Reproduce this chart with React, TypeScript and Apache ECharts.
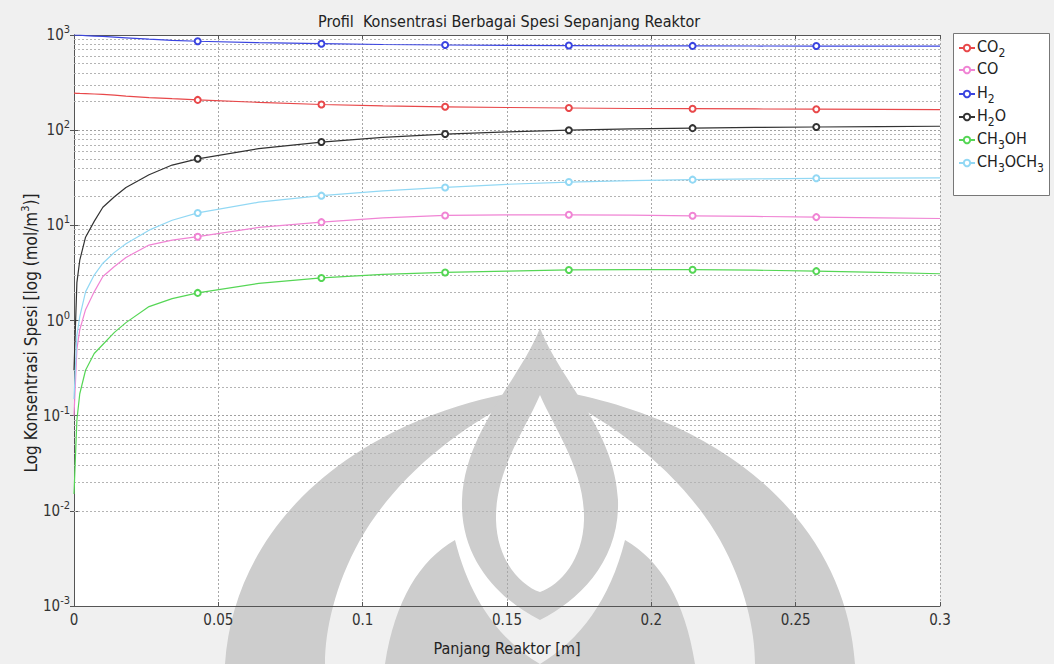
import React, { useEffect, useRef } from "react";
import * as echarts from "echarts";

const xs = [0, 0.001, 0.002, 0.004, 0.007, 0.01, 0.014, 0.018, 0.026, 0.034, 0.042857, 0.064, 0.085714, 0.107, 0.128571, 0.15, 0.171429, 0.193, 0.214286, 0.236, 0.257143, 0.279, 0.3];
const markerXs = [0.042857, 0.085714, 0.128571, 0.171429, 0.214286, 0.257143];

const seriesNames = ["CO2", "CO", "H2", "H2O", "CH3OH", "CH3OCH3"];
const co2 = [245, 244, 243, 242, 240, 238, 234, 228, 220, 214, 208, 196, 186, 180, 176, 173, 171, 169, 168, 167, 166, 165, 164];
const co = [0.1, 0.5, 0.8, 1.3, 2.0, 2.9, 3.7, 4.6, 6.2, 7.0, 7.6, 9.5, 10.8, 12, 12.7, 12.9, 12.9, 12.8, 12.6, 12.4, 12.2, 12.0, 11.8];
const h2 = [1000, 998, 995, 985, 975, 965, 950, 935, 905, 880, 860, 830, 810, 795, 785, 778, 775, 770, 768, 766, 765, 765, 765];
const h2o = [0.3, 2.5, 4.3, 7.5, 11, 15.5, 20, 25, 34, 43, 50, 64, 75, 84, 91, 96, 100, 103, 105, 107, 108, 109, 110];
const ch3oh = [0.015, 0.09, 0.17, 0.3, 0.45, 0.56, 0.75, 0.95, 1.4, 1.7, 1.95, 2.45, 2.8, 3.05, 3.2, 3.3, 3.4, 3.42, 3.42, 3.38, 3.3, 3.2, 3.1];
const ch3och3 = [0.15, 0.7, 1.1, 2.0, 3.0, 4.0, 5.2, 6.4, 8.9, 11.3, 13.5, 17.5, 20.5, 23, 25, 27, 28.5, 29.5, 30.2, 30.8, 31.2, 31.4, 31.5];
const seriesValues = [co2, co, h2, h2o, ch3oh, ch3och3];
const seriesColors = ["#e8484a", "#f084d4", "#3a44e0", "#333333", "#55d655", "#92d8f4"];

const xTicks = [0, 0.05, 0.1, 0.15, 0.2, 0.25, 0.3];
const xTickLabels = ["0", "0.05", "0.1", "0.15", "0.2", "0.25", "0.3"];
const yMin = 0.001;
const yMax = 1000;
const decadeExps = [-3, -2, -1, 0, 1, 2];
const minorMultipliers = [2, 3, 4, 5, 6, 7, 8, 9];

const FONT = "'DejaVu Sans Condensed', 'Liberation Sans Narrow', 'DejaVu Sans', sans-serif";

function chemRich(name: string): string {
  return name.replace(/([A-Za-z]+)|(\d+)/g, (m, a, d) => (a ? `{n|${a}}` : `{s|${d}}`));
}

export default function App() {
  const ref = useRef<HTMLDivElement>(null);
  useEffect(() => {
    if (!ref.current) return;
    const chart = echarts.init(ref.current, null, { renderer: "svg" });

    const minorLines: any[] = [];
    decadeExps.forEach((e) => {
      minorMultipliers.forEach((k) => {
        minorLines.push({ yAxis: k * Math.pow(10, e) });
      });
    });

    const wm = [
      "M 225 664 C 232 560 300 470 420 420 C 470 400 510 392 535 390 C 470 420 400 470 360 540 C 335 585 325 630 325 664 Z",
      "M 855 664 C 848 560 780 470 660 420 C 610 400 570 392 545 390 C 610 420 680 470 720 540 C 745 585 755 630 755 664 Z",
      "M 540 328 C 520 380 465 430 462 500 C 460 560 500 600 540 620 C 580 600 620 560 618 500 C 615 430 560 380 540 328 Z M 540 395 C 555 430 585 470 584 520 C 583 560 560 585 540 592 C 520 585 497 560 496 520 C 495 470 525 430 540 395 Z",
      "M 385 664 C 395 600 420 560 455 540 C 470 600 500 640 540 664 Z",
      "M 695 664 C 685 600 660 560 625 540 C 610 600 580 640 540 664 Z",
    ];
    wm.forEach((d, i) => {
      try {
        echarts.graphic.registerShape("wm" + i, echarts.graphic.extendPath(d, {}) as any);
      } catch (e) {}
    });

    const series: any[] = seriesNames.map((name, si) => ({
      name,
      type: "line",
      data: xs.map((x, i) => {
        const isMarker = markerXs.includes(x);
        return isMarker ? { value: [x, seriesValues[si][i]] } : { value: [x, seriesValues[si][i]], symbol: "none" };
      }),
      symbol: "emptyCircle",
      symbolSize: 6,
      showSymbol: true,
      showAllSymbol: true,
      lineStyle: { width: 1.2, color: seriesColors[si] },
      itemStyle: { color: seriesColors[si], borderWidth: 1 },
      z: 5,
    }));

    series.push({
      name: "grid-minor",
      type: "line",
      data: [],
      silent: true,
      markLine: {
        silent: true,
        symbol: ["none", "none"],
        label: { show: false },
        lineStyle: { color: "#b4b4b4", type: [2, 2], width: 1 },
        data: minorLines,
        animation: false,
      },
      z: 1,
    });

    const legends = seriesNames.map((name, i) => ({
      data: [name],
      orient: "vertical",
      left: 958,
      top: 37 + i * 23,
      padding: 0,
      itemWidth: 16,
      itemHeight: 8,
      itemGap: 0,
      z: 10,
      formatter: (n: string) => chemRich(n),
      textStyle: {
        fontFamily: FONT,
        padding: [0, 0, 0, -3],
        rich: {
          n: { fontFamily: FONT, fontSize: 16, color: "#222", lineHeight: 18, padding: [0, 0, 4, 0] },
          s: { fontFamily: FONT, fontSize: 12, color: "#222", lineHeight: 12, padding: [10, 0, 0, 0] },
        },
      },
    }));

    const axisLineStyle = { color: "#555", width: 1 };

    const option: any = {
      animation: false,
      backgroundColor: "#f0f0f0",
      textStyle: { fontFamily: FONT },
      title: {
        text: "Profil  Konsentrasi Berbagai Spesi Sepanjang Reaktor",
        left: 313,
        top: 8,
        textStyle: { fontFamily: FONT, fontSize: 16, fontWeight: "normal", color: "#222" },
      },
      grid: { left: 74, right: 114, top: 35, bottom: 58, show: false },
      legend: legends,
      xAxis: [
        {
          type: "value",
          min: 0,
          max: 0.3,
          interval: 0.05,
          axisLine: { show: true, onZero: false, lineStyle: axisLineStyle },
          axisTick: { show: true, inside: true, length: 4, lineStyle: { color: "#555" } },
          axisLabel: {
            color: "#333",
            fontSize: 15,
            fontFamily: FONT,
            margin: 6,
            formatter: (v: number) => {
              const idx = xTicks.findIndex((t) => Math.abs(t - v) < 1e-9);
              return idx >= 0 ? xTickLabels[idx] : "";
            },
          },
          splitLine: { show: true, lineStyle: { color: "#a8a8a8", type: [2, 2] } },
        },
        {
          type: "value",
          position: "top",
          min: 0,
          max: 0.3,
          interval: 0.05,
          axisLine: { show: true, onZero: false, lineStyle: axisLineStyle },
          axisTick: { show: true, inside: true, length: 4, lineStyle: { color: "#555" } },
          axisLabel: { show: false },
          splitLine: { show: false },
        },
      ],
      yAxis: [
        {
          type: "log",
          logBase: 10,
          min: yMin,
          max: yMax,
          axisLine: { show: true, lineStyle: axisLineStyle },
          axisTick: { show: true, inside: true, length: 4, lineStyle: { color: "#555" } },
          axisLabel: {
            color: "#333",
            fontFamily: FONT,
            margin: 4,
            formatter: (v: number) => `{b|10}{p|${Math.round(Math.log10(v))}}`,
            rich: {
              b: { fontFamily: FONT, fontSize: 15, color: "#333", lineHeight: 16 },
              p: { fontFamily: FONT, fontSize: 11, color: "#333", lineHeight: 16, padding: [0, 0, 11, 0] },
            },
          },
          splitLine: { show: true, lineStyle: { color: "#a0a0a0", type: [2, 2] } },
        },
        {
          type: "log",
          logBase: 10,
          position: "right",
          min: yMin,
          max: yMax,
          axisLine: { show: true, lineStyle: axisLineStyle },
          axisTick: { show: true, inside: true, length: 4, lineStyle: { color: "#555" } },
          axisLabel: { show: false },
          splitLine: { show: false },
        },
      ],
      graphic: [
        { type: "rect", z: -100, silent: true, shape: { x: 74, y: 35, width: 866, height: 571 }, style: { fill: "#ffffff" } },
        ...wm.map((_, i) => ({ type: "wm" + i, z: -50, silent: true, x: 0, y: 0, style: { fill: "#cdcdcd" } })),
        { type: "rect", z: -40, silent: true, shape: { x: 953.5, y: 33.5, width: 96, height: 162 }, style: { fill: "#ffffff", stroke: "#777", lineWidth: 1 } },
        {
          type: "text",
          z: 20,
          x: 507,
          y: 648,
          style: { text: "Panjang Reaktor [m]", fontFamily: FONT, fontSize: 16, fill: "#222", align: "center", verticalAlign: "middle" },
        },
        {
          type: "text",
          z: 20,
          x: 31,
          y: 333,
          rotation: Math.PI / 2,
          style: {
            text: "Log Konsentrasi Spesi [log (mol/m{p|3})]",
            fontFamily: FONT,
            fontSize: 17,
            fill: "#222",
            align: "center",
            verticalAlign: "middle",
            rich: {
              p: { fontFamily: FONT, fontSize: 11, fill: "#222", padding: [0, 0, 11, 0] },
            },
          },
        },
      ],
      series,
    };

    chart.setOption(option);
    return () => chart.dispose();
  }, []);

  return <div ref={ref} style={{ position: "fixed", left: 0, top: 0, width: 1054, height: 664 }} />;
}
